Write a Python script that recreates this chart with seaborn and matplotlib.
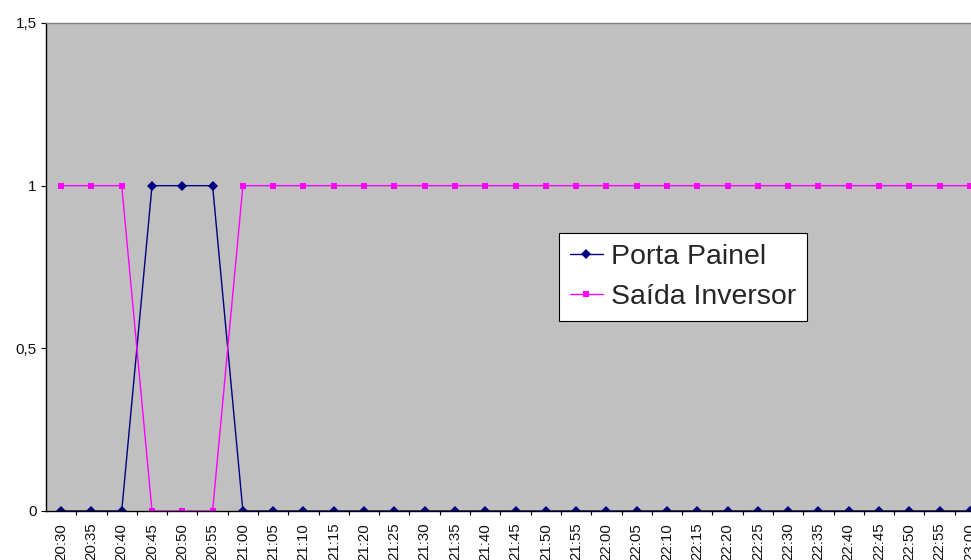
import matplotlib
matplotlib.use("Agg")
import matplotlib.pyplot as plt
import seaborn as sns
import pandas as pd
import numpy as np

# Time slots, every 5 minutes from 20:30 to 23:00
times = ["20:30", "20:35", "20:40", "20:45", "20:50", "20:55", "21:00", "21:05",
         "21:10", "21:15", "21:20", "21:25", "21:30", "21:35", "21:40", "21:45",
         "21:50", "21:55", "22:00", "22:05", "22:10", "22:15", "22:20", "22:25",
         "22:30", "22:35", "22:40", "22:45", "22:50", "22:55", "23:00"]

porta_painel = [0, 0, 0, 1, 1, 1, 0, 0, 0, 0, 0, 0, 0, 0, 0, 0,
                0, 0, 0, 0, 0, 0, 0, 0, 0, 0, 0, 0, 0, 0, 0]
saida_inversor = [1, 1, 1, 0, 0, 0, 1, 1, 1, 1, 1, 1, 1, 1, 1, 1,
                  1, 1, 1, 1, 1, 1, 1, 1, 1, 1, 1, 1, 1, 1, 1]

y_ticks = [0, 0.5, 1, 1.5]
y_tick_labels = ["0", "0,5", "1", "1,5"]

sns.set_style("white")
plt.rcParams["font.family"] = ["Liberation Sans", "DejaVu Sans"]

W, H = 971, 560
fig = plt.figure(figsize=(W / 100, H / 100), dpi=100)
# plot area runs past the right edge of the figure
ax = fig.add_axes([46 / W, 1 - 511 / H, 939 / W, 488 / H])
ax.set_facecolor("#C0C0C0")

df = pd.DataFrame({"idx": np.arange(len(times)),
                   "porta": porta_painel,
                   "saida": saida_inversor})

sns.lineplot(data=df, x="idx", y="porta", ax=ax, color="#000080", linewidth=1.0,
             marker="D", markersize=5, markeredgewidth=0, label="Porta Painel")
sns.lineplot(data=df, x="idx", y="saida", ax=ax, color="#FF00FF", linewidth=1.0,
             marker="s", markersize=5, markeredgewidth=0, label="Saída Inversor")

ax.set_xlim(-0.5, len(times) - 0.5)
ax.set_ylim(0, 1.5)
ax.set_xlabel("")
ax.set_ylabel("")

ax.set_yticks(y_ticks)
ax.set_yticklabels(y_tick_labels, fontsize=11, color="#111111")
ax.tick_params(axis="y", length=3.6, width=0.8, color="black", pad=3, left=True)

ax.set_xticks(np.arange(len(times)))
ax.set_xticklabels(times, rotation=90, fontsize=10.8, color="#111111", va="top")
ax.tick_params(axis="x", which="major", length=0, pad=8.5)
ax.set_xticks(np.arange(len(times)) + 0.5, minor=True)
ax.tick_params(axis="x", which="minor", length=3.2, width=0.8, color="black",
               bottom=True)

for side in ["left", "bottom"]:
    ax.spines[side].set_color("black")
    ax.spines[side].set_linewidth(1.0)
ax.spines["top"].set_color("#808080")
ax.spines["top"].set_linewidth(1.0)
ax.spines["right"].set_visible(False)

leg = ax.legend(loc="upper left", bbox_to_anchor=(559 / W, 1 - 233 / H),
                bbox_transform=fig.transFigure, fontsize=20.5, frameon=True,
                fancybox=False, edgecolor="black", facecolor="white",
                framealpha=1, borderpad=0.38, handlelength=1.16,
                handletextpad=0.28, labelspacing=0.5, borderaxespad=0)
leg.get_frame().set_linewidth(0.8)

fig.savefig("out.png", dpi=100)
